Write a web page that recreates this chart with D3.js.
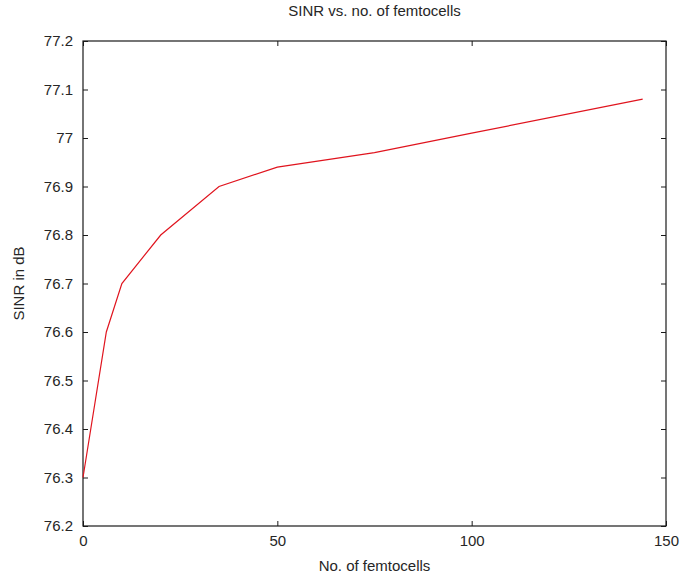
<!DOCTYPE html>
<html>
<head>
<meta charset="utf-8">
<script src="https://cdn.jsdelivr.net/npm/d3@7"></script>
<style>
  body { margin: 0; background: #fff; }
  text { font-family: Arial, "Liberation Sans", sans-serif; fill: #262626; }
</style>
</head>
<body>
<div id="chart"></div>
<script>
var femtocells = [0, 6, 10, 20, 35, 50, 75, 100, 144];
var sinr = [76.3, 76.6, 76.7, 76.8, 76.9, 76.94, 76.97, 77.01, 77.08];
var xTicks = [0, 50, 100, 150];
var yTicks = [76.2, 76.3, 76.4, 76.5, 76.6, 76.7, 76.8, 76.9, 77, 77.1, 77.2];

var svgWidth = 683;
var svgHeight = 576;
var margin = { top: 41, right: 17, bottom: 50, left: 83 };
var width = svgWidth - margin.left - margin.right;
var height = svgHeight - margin.top - margin.bottom;

var svg = d3.select("#chart")
  .append("svg")
  .attr("width", svgWidth)
  .attr("height", svgHeight);

var chartGroup = svg.append("g")
  .attr("transform", `translate(${margin.left}, ${margin.top})`);

var xScale = d3.scaleLinear().domain([0, 150]).range([0, width]);
var yScale = d3.scaleLinear().domain([76.2, 77.2]).range([height, 0]);

// axes with inward ticks, mirrored on the opposite sides
var bottomAxis = d3.axisBottom(xScale).tickValues(xTicks).tickSizeInner(-5).tickSizeOuter(0).tickPadding(9);
var topAxis = d3.axisTop(xScale).tickValues(xTicks).tickSizeInner(-5).tickSizeOuter(0).tickFormat("");
var leftAxis = d3.axisLeft(yScale).tickValues(yTicks).tickSizeInner(-5).tickSizeOuter(0).tickPadding(10)
  .tickFormat(d3.format("~g"));
var rightAxis = d3.axisRight(yScale).tickValues(yTicks).tickSizeInner(-5).tickSizeOuter(0).tickFormat("");

chartGroup.append("g").attr("transform", `translate(0, ${height})`).call(bottomAxis);
chartGroup.append("g").call(topAxis);
chartGroup.append("g").call(leftAxis);
chartGroup.append("g").attr("transform", `translate(${width}, 0)`).call(rightAxis);

chartGroup.selectAll(".domain").remove();
chartGroup.selectAll(".tick line").attr("stroke", "#1a1a1a");
chartGroup.selectAll(".tick text").attr("font-size", "15px").attr("fill", "#262626")
  .attr("font-family", "Arial, 'Liberation Sans', sans-serif");

chartGroup.append("rect")
  .attr("width", width)
  .attr("height", height)
  .attr("fill", "none")
  .attr("stroke", "#1a1a1a")
  .attr("stroke-width", 1.2);

// the curve
var line = d3.line()
  .x(function(d, i) { return xScale(femtocells[i]); })
  .y(function(d) { return yScale(d); });

chartGroup.append("path")
  .datum(sinr)
  .attr("d", line)
  .attr("fill", "none")
  .attr("stroke", "#e0141e")
  .attr("stroke-width", 1.2);

// labels
chartGroup.append("text")
  .attr("x", width / 2)
  .attr("y", -29)
  .attr("text-anchor", "middle")
  .attr("dominant-baseline", "middle")
  .attr("font-size", "15px")
  .text("SINR vs. no. of femtocells");

chartGroup.append("text")
  .attr("x", width / 2)
  .attr("y", height + 41)
  .attr("text-anchor", "middle")
  .attr("dominant-baseline", "middle")
  .attr("font-size", "15px")
  .text("No. of femtocells");

chartGroup.append("text")
  .attr("transform", "rotate(-90)")
  .attr("x", -height / 2)
  .attr("y", -63)
  .attr("text-anchor", "middle")
  .attr("dominant-baseline", "middle")
  .attr("font-size", "15px")
  .text("SINR in dB");
</script>
</body>
</html>
